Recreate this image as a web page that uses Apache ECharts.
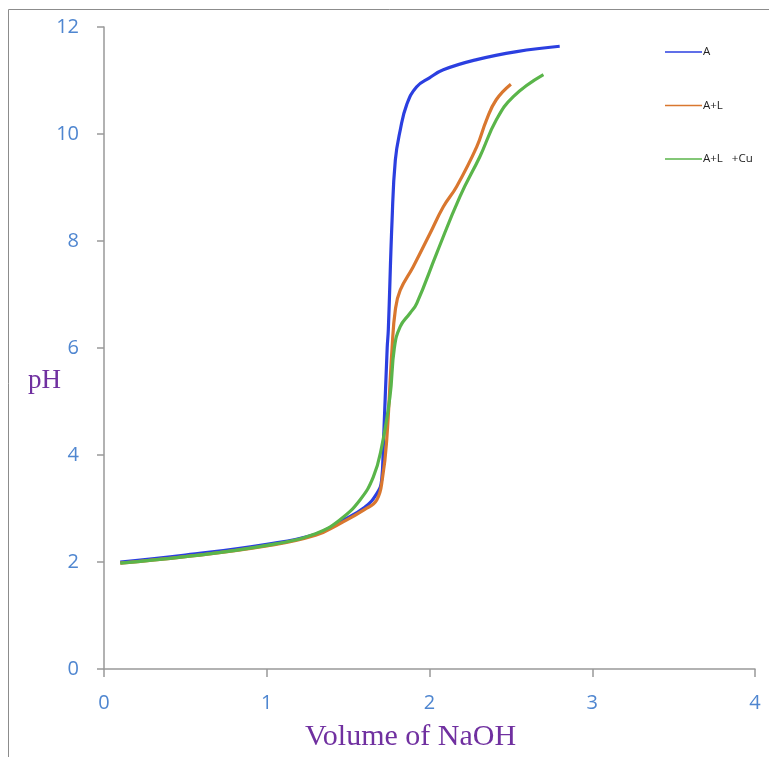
<!DOCTYPE html>
<html>
<head>
<meta charset="utf-8">
<script src="https://cdn.jsdelivr.net/npm/echarts@6/dist/echarts.min.js"></script>
<style>
  html, body { margin: 0; padding: 0; background: #fff; }
  #chart { width: 769px; height: 757px; }
</style>
</head>
<body>
<div id="chart"></div>
<script>
// Volume of NaOH (x) and pH (y) for each titration curve
const volA = [0.1, 0.5, 1.0, 1.3, 1.45, 1.6, 1.676, 1.706, 1.716, 1.74, 1.747, 1.77, 1.79, 1.82, 1.86, 1.92, 2.0, 2.085, 2.29, 2.536, 2.8];
const phA  = [2.0, 2.13, 2.33, 2.52, 2.75, 3.02, 3.28, 3.53, 4.15, 6.0, 6.34, 8.39, 9.51, 10.07, 10.55, 10.88, 11.05, 11.2, 11.39, 11.54, 11.64];

const volAL = [0.1, 0.5, 1.0, 1.3, 1.45, 1.6, 1.676, 1.712, 1.737, 1.77, 1.79, 1.82, 1.9, 2.003, 2.085, 2.167, 2.29, 2.35, 2.41, 2.5];
const phAL  = [1.98, 2.1, 2.3, 2.5, 2.72, 2.98, 3.16, 3.59, 4.28, 6.0, 6.71, 7.08, 7.52, 8.14, 8.64, 9.02, 9.76, 10.26, 10.64, 10.93];

const volALCu = [0.1, 0.5, 1.0, 1.3, 1.45, 1.573, 1.655, 1.706, 1.757, 1.784, 1.82, 1.88, 1.921, 2.044, 2.187, 2.31, 2.41, 2.515, 2.7];
const phALCu  = [1.98, 2.1, 2.31, 2.53, 2.79, 3.16, 3.59, 4.15, 5.09, 6.0, 6.4, 6.65, 6.83, 7.77, 8.83, 9.58, 10.26, 10.7, 11.11];

const xTicks = [0, 1, 2, 3, 4];
const yTicks = [0, 2, 4, 6, 8, 10, 12];

const seriesNames = ["A", "A+L", "A+L   +Cu"];
const seriesColors = ["#2b3fe0", "#d9772f", "#5ab54a"];

const zip = (xs, ys) => xs.map((x, i) => [x, ys[i]]);
const seriesData = [zip(volA, phA), zip(volAL, phAL), zip(volALCu, phALCu)];

const chart = echarts.init(document.getElementById("chart"));

const axisColor = "#999999";
const tickLabelColor = "#4f86d0";

const option = {
  animation: false,
  grid: { left: 104, right: 14, top: 27, bottom: 88 },
  legend: {
    orient: "vertical",
    left: 660,
    top: 41,
    itemGap: 41.5,
    itemWidth: 37,
    itemHeight: 1.5,
    icon: "rect",
    textStyle: { fontFamily: "Open Sans", fontSize: 11.5, color: "#222", padding: [0, 0, 0, -4] },
    data: seriesNames,
  },
  xAxis: {
    type: "value",
    min: 0,
    max: 4,
    interval: 1,
    axisLine: { show: true, lineStyle: { color: axisColor, width: 1.5 } },
    axisTick: { show: true, length: 8, lineStyle: { color: axisColor, width: 1.5 } },
    axisLabel: { color: tickLabelColor, fontFamily: "Open Sans", fontSize: 20, margin: 24 },
    splitLine: { show: false },
  },
  yAxis: {
    type: "value",
    min: 0,
    max: 12,
    interval: 2,
    axisLine: { show: true, lineStyle: { color: axisColor, width: 1.5 } },
    axisTick: { show: true, length: 7, lineStyle: { color: axisColor, width: 1.5 } },
    axisLabel: { color: tickLabelColor, fontFamily: "Open Sans", fontSize: 20, margin: 25 },
    splitLine: { show: false },
  },
  series: seriesNames.map((name, i) => ({
    name: name,
    type: "line",
    data: seriesData[i],
    smooth: 0.45,
    showSymbol: false,
    color: seriesColors[i],
    lineStyle: { width: 3.2, color: seriesColors[i] },
    z: 2 + i,
  })),
  graphic: [
    {
      type: "rect",
      silent: true,
      shape: { x: 8.5, y: 9.5, width: 800, height: 800 },
      style: { fill: "none", stroke: "#8c8c8c", lineWidth: 1 },
    },
    {
      type: "text",
      left: 28,
      top: 367,
      style: { text: "pH", fontFamily: "Liberation Serif", fontSize: 27, fill: "#7030a0" },
    },
    {
      type: "text",
      left: 305,
      top: 722,
      style: { text: "Volume of NaOH", fontFamily: "Liberation Serif", fontSize: 30, fill: "#7030a0" },
    },
  ],
};

chart.setOption(option);
</script>
</body>
</html>
